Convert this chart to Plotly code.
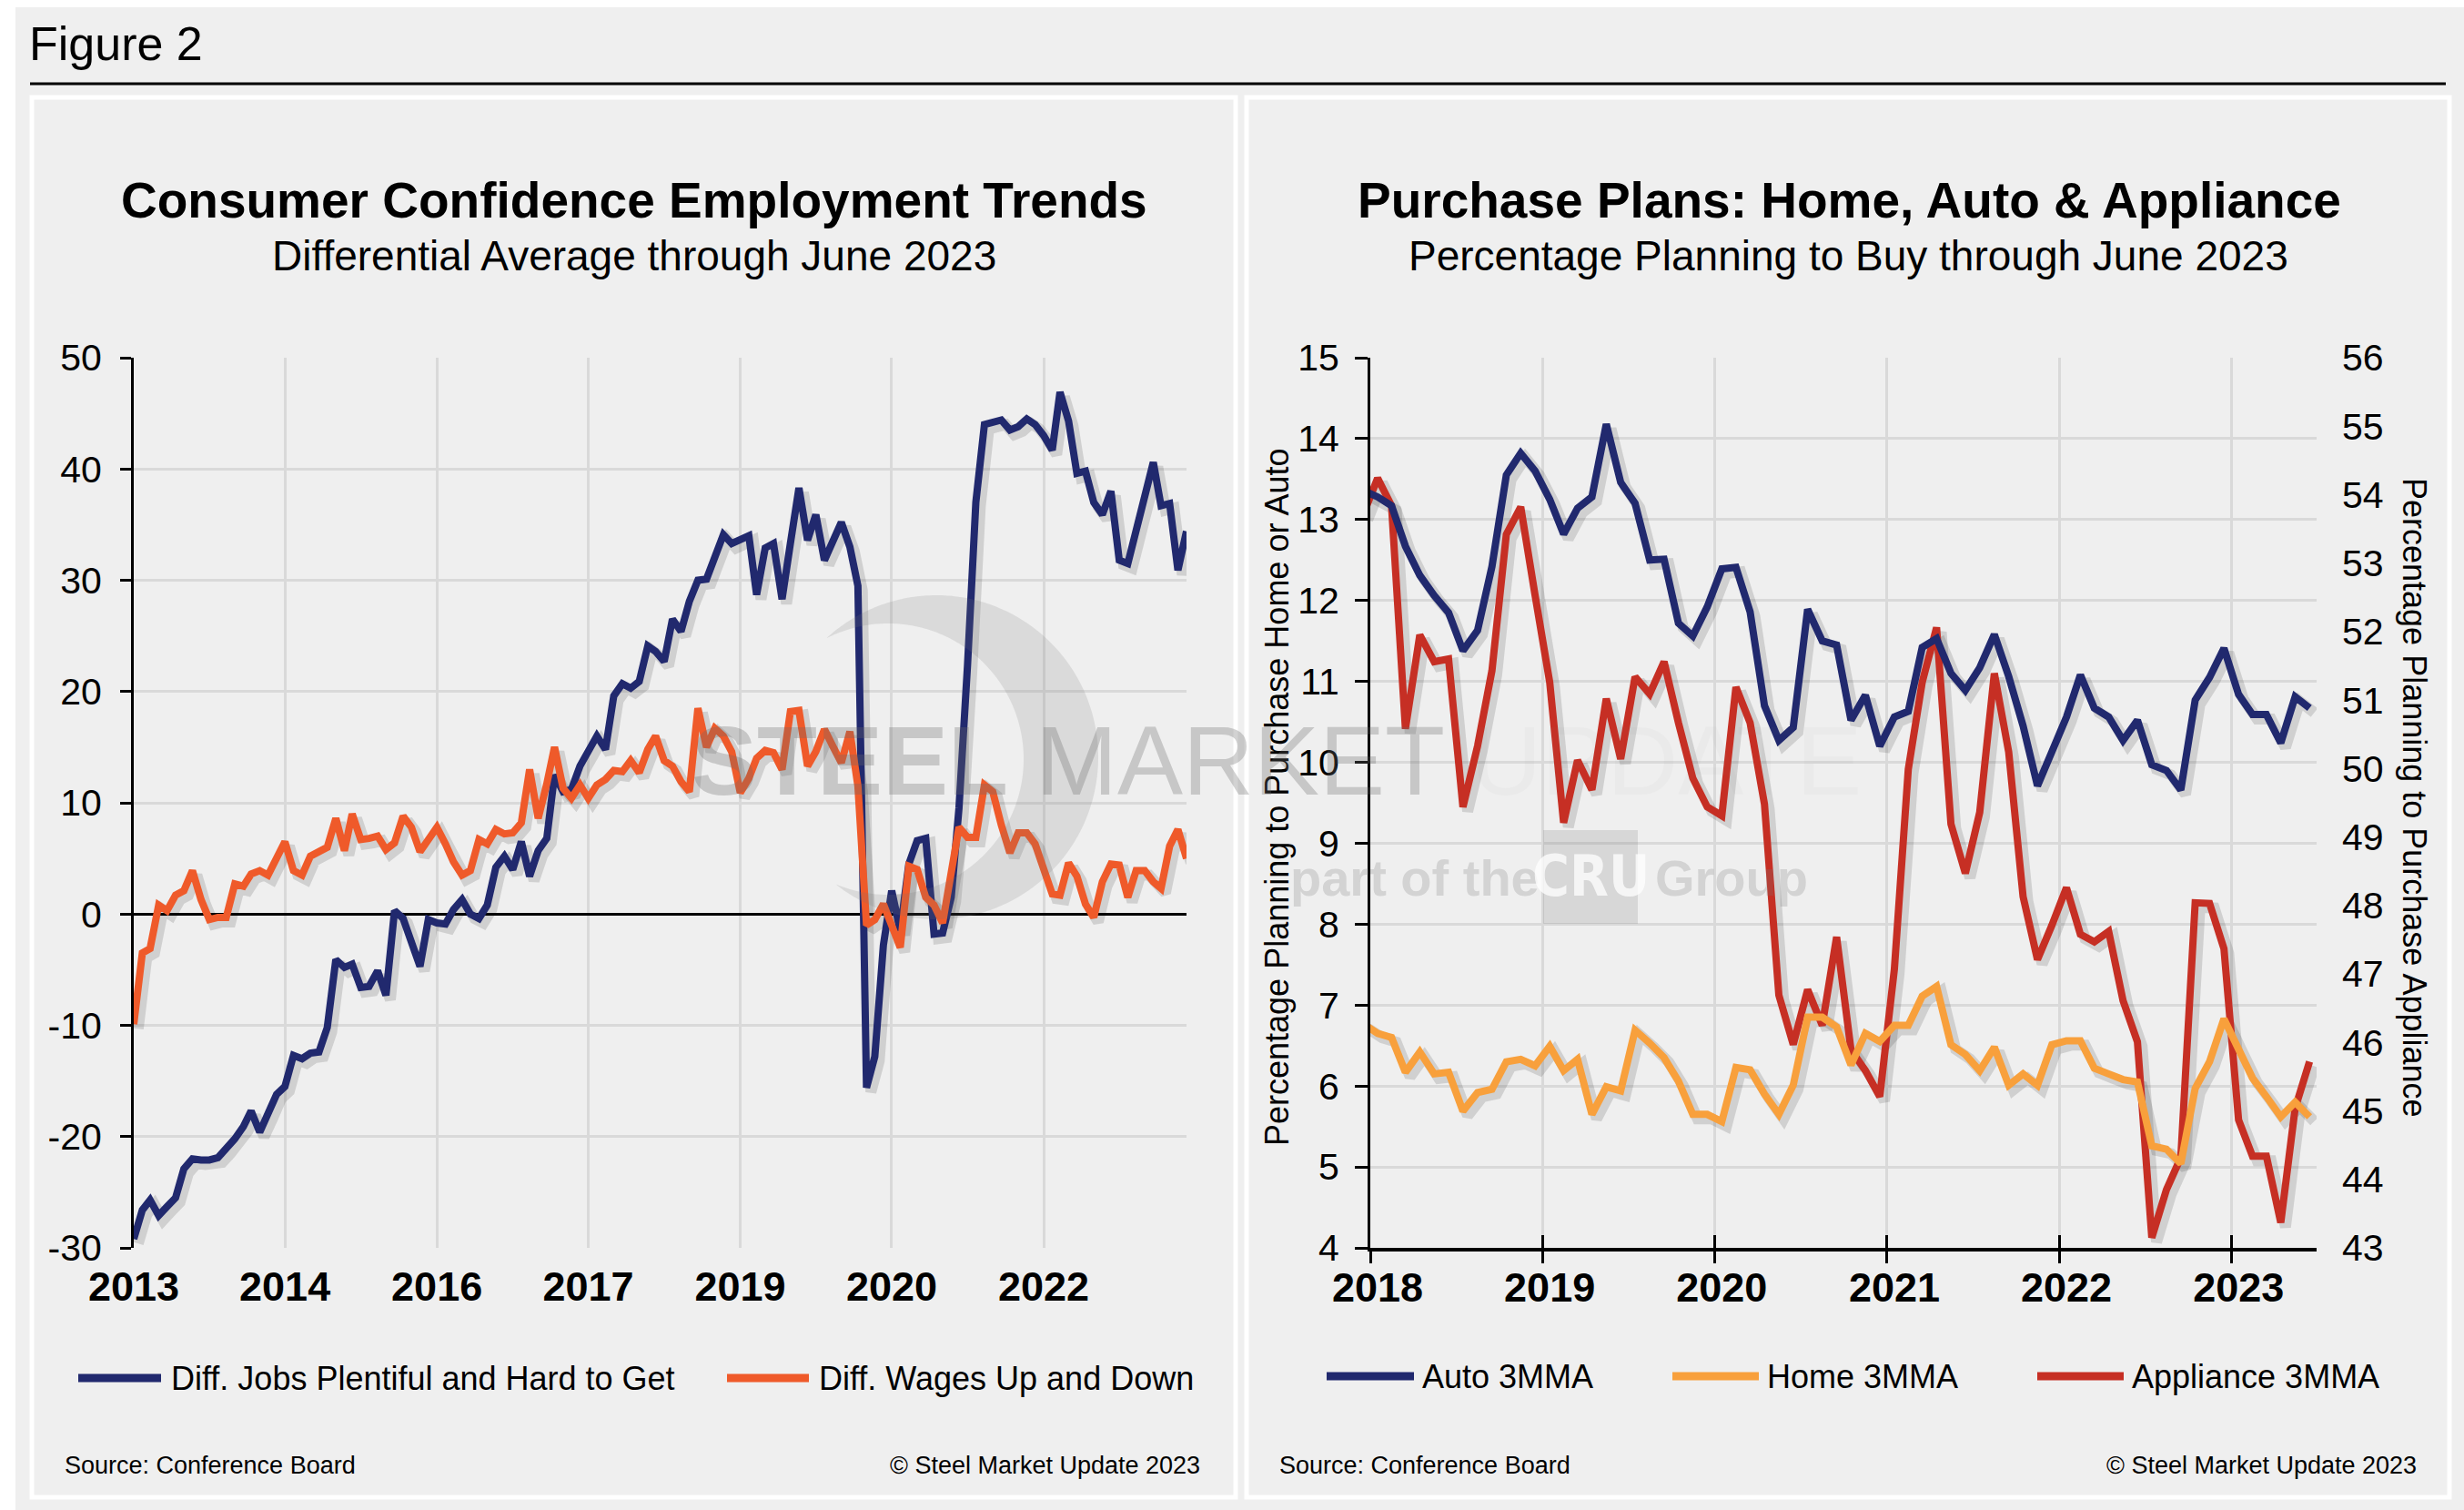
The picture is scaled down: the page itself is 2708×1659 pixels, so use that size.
import numpy as np
import pandas as pd
import plotly.graph_objects as go

W, H = 2708, 1659
FONT = "Liberation Sans, Arial, Helvetica, sans-serif"
NAVY = "#21296e"
ORANGE = "#ef5a2a"
HOME = "#f8a03c"
RED = "#c62f24"
BG = "#efefef"
GRID = "#d9d9d9"
SHADOW = "rgba(0,0,0,0.13)"

# ---------------- Left chart data (monthly, Jan 2013 - Jun 2023) ----------------
left_months = pd.date_range("2013-01-01", "2023-06-01", freq="MS").strftime("%Y-%m-%d").tolist()

jobs_diff = [
    -29.2, -26.6, -25.7, -27.1, -26.3, -25.5, -22.9, -22.0, -22.1, -22.1, -21.9, -21.1,
    -20.2, -19.1, -17.7, -19.6, -18.0, -16.2, -15.5, -12.7, -13.0, -12.5, -12.4, -10.2,
    -4.1, -4.8, -4.5, -6.6, -6.5, -5.1, -7.3, 0.3, -0.4, -2.3, -4.7, -0.5,
    -0.8, -0.9, 0.4, 1.3, 0.0, -0.4, 0.8, 4.2, 5.2, 4.0, 6.5, 3.4,
    5.7, 6.8, 12.5, 11.0, 11.2, 13.3, 14.6, 16.0, 14.8, 19.6, 20.7, 20.3,
    20.9, 24.1, 23.6, 22.7, 26.5, 25.4, 28.1, 30.0, 30.1, 32.3, 34.1, 33.3,
    33.6, 34.0, 28.7, 32.9, 33.3, 28.3, 33.3, 38.3, 33.6, 35.9, 31.8, 33.6,
    35.2, 33.0, 29.5, -15.6, -12.8, -2.8, 2.1, -1.5, 4.5, 6.6, 6.8, -1.8,
    -1.7, 1.5, 9.5, 22.4, 37.0, 44.0, 44.2, 44.4, 43.5, 43.8, 44.5, 44.0,
    43.0, 41.7, 46.9, 44.3, 39.6, 39.8, 37.0, 35.9, 38.0, 31.8, 31.5, 34.4,
    37.0, 40.6, 36.7, 36.9, 30.9, 34.4,
]
wages_diff = [
    -9.9, -3.5, -3.1, 0.8, 0.3, 1.7, 2.1, 3.9, 1.3, -0.5, -0.3, -0.3,
    2.7, 2.5, 3.6, 3.9, 3.5, 5.2, 6.5, 3.9, 3.5, 5.2, 5.7, 6.0,
    8.6, 5.7, 9.0, 6.7, 6.8, 7.0, 5.8, 6.4, 8.8, 7.8, 5.6, 6.8,
    7.8, 6.3, 4.7, 3.5, 3.9, 6.7, 6.3, 7.6, 7.2, 7.3, 8.2, 13.0,
    8.6, 11.7, 15.0, 11.3, 10.4, 11.6, 10.4, 11.6, 12.1, 12.9, 12.8, 13.8,
    12.7, 14.8, 16.0, 13.8, 13.3, 11.9, 11.0, 18.5, 15.0, 16.7, 16.0, 14.6,
    10.9, 12.2, 14.0, 14.7, 14.5, 13.0, 18.2, 18.3, 13.3, 14.6, 16.6, 15.1,
    13.6, 16.4, 11.5, -1.0, -0.5, 0.9, -1.0, -3.0, 4.3, 4.0, 1.5, 0.8,
    -0.8, 3.9, 7.8, 6.9, 6.9, 11.6, 11.0, 8.0, 5.5, 7.3, 7.3, 6.3,
    4.2, 1.8, 1.7, 4.6, 3.4, 0.9, -0.3, 2.9, 4.5, 4.4, 1.5, 3.9,
    3.9, 2.9, 2.3, 6.1, 7.6, 5.0,
]
left_tickvals = ["2013-01-01", "2014-07-01", "2016-01-01", "2017-07-01",
                 "2019-01-01", "2020-07-01", "2022-01-01"]
left_ticktext = ["2013", "2014", "2016", "2017", "2019", "2020", "2022"]
left_yvals = [-30, -20, -10, 0, 10, 20, 30, 40, 50]
left_ytext = ["-30", "-20", "-10", "0", "10", "20", "30", "40", "50"]

# ---------------- Right chart data (monthly, Dec 2017 - Jun 2023) ----------------
right_months = pd.date_range("2017-12-01", "2023-06-01", freq="MS").strftime("%Y-%m-%d").tolist()

auto_3mma = [
    13.36,
    13.28, 13.17, 12.67, 12.31, 12.06, 11.85, 11.38, 11.63, 12.42, 13.55, 13.82, 13.60,
    13.25, 12.82, 13.14, 13.28, 14.18, 13.46, 13.20, 12.50, 12.51, 11.72, 11.56, 11.92,
    12.39, 12.41, 11.86, 10.70, 10.27, 10.43, 11.89, 11.50, 11.45, 10.52, 10.83, 10.20,
    10.56, 10.63, 11.42, 11.53, 11.10, 10.89, 11.17, 11.58, 11.06, 10.45, 9.71, 10.13,
    10.56, 11.08, 10.67, 10.56, 10.27, 10.52, 9.97, 9.90, 9.66, 10.77, 11.05, 11.41,
    10.84, 10.59, 10.59, 10.24, 10.81, 10.67,
]
home_3mma = [
    6.77,
    6.65, 6.60, 6.17, 6.42, 6.15, 6.17, 5.69, 5.92, 5.96, 6.30, 6.33, 6.25,
    6.49, 6.19, 6.33, 5.65, 5.99, 5.94, 6.69, 6.53, 6.35, 6.06, 5.65, 5.65,
    5.56, 6.23, 6.20, 5.90, 5.65, 6.01, 6.85, 6.85, 6.73, 6.26, 6.65, 6.55,
    6.75, 6.75, 7.11, 7.23, 6.51, 6.39, 6.19, 6.48, 6.01, 6.15, 6.01, 6.51,
    6.56, 6.56, 6.22, 6.15, 6.08, 6.05, 5.26, 5.22, 5.04, 5.97, 6.30, 6.83,
    6.48, 6.10, 5.87, 5.62, 5.80, 5.62,
]
appliance_3mma = [
    53.70,
    54.24, 53.84, 50.58, 51.95, 51.56, 51.60, 49.44, 50.33, 51.43, 53.42, 53.82, 52.53,
    51.26, 49.21, 50.12, 49.69, 51.02, 50.14, 51.34, 51.09, 51.56, 50.67, 49.86, 49.44,
    49.31, 51.19, 50.67, 49.48, 46.69, 45.97, 46.77, 46.25, 47.54, 45.89, 45.59, 45.21,
    47.07, 49.99, 51.26, 52.06, 49.19, 48.47, 49.36, 51.39, 50.24, 48.13, 47.21, 47.71,
    48.26, 47.58, 47.47, 47.62, 46.61, 46.01, 43.15, 43.85, 44.32, 48.04, 48.03, 47.37,
    44.87, 44.34, 44.34, 43.37, 45.04, 45.72,
]
right_tickvals = ["2018-01-01", "2019-01-01", "2020-01-01", "2021-01-01", "2022-01-01", "2023-01-01"]
right_ticktext = ["2018", "2019", "2020", "2021", "2022", "2023"]


# ---------------- helpers (pixel -> paper) ----------------
def px(x):
    return x / W


def py(y):
    return 1 - y / H


def shift_dates(rng, days):
    return [(pd.Timestamp(d) + pd.Timedelta(days=days)).strftime("%Y-%m-%d %H:%M:%S") for d in rng]


LX = [px(147), px(1304)]
RX = [px(1506), px(2546)]
YD = [py(1371), py(393)]

left_range = ["2013-01-01", "2023-06-01"]
right_range = ["2018-01-01", "2023-07-01"]
LY = [-30, 50]
RY1 = [4, 15]
RY2 = [43, 56]

fig = go.Figure()
per = dict(xperiod="M1", xperiodalignment="middle")
invisible = dict(mode="lines", line=dict(width=0, color="rgba(0,0,0,0)"), opacity=0,
                 hoverinfo="skip", showlegend=False)

# base subplots (carry the visible axes)
fig.add_trace(go.Scatter(x=left_months, y=jobs_diff, xaxis="x", yaxis="y", **invisible))
fig.add_trace(go.Scatter(x=right_months, y=auto_3mma, xaxis="x2", yaxis="y2", **invisible, **per))

# ---- left chart: shadows then lines ----
for vals in (jobs_diff, wages_diff):
    fig.add_trace(go.Scatter(x=left_months, y=vals, mode="lines", xaxis="x3", yaxis="y3",
                             line=dict(color=SHADOW, width=12), hoverinfo="skip", showlegend=False))
fig.add_trace(go.Scatter(x=left_months, y=jobs_diff, mode="lines", name="Diff. Jobs Plentiful and Hard to Get",
                         xaxis="x4", yaxis="y4", line=dict(color=NAVY, width=8), showlegend=False))
fig.add_trace(go.Scatter(x=left_months, y=wages_diff, mode="lines", name="Diff. Wages Up and Down",
                         xaxis="x4", yaxis="y4", line=dict(color=ORANGE, width=8), showlegend=False))

# ---- right chart: shadows then lines ----
fig.add_trace(go.Scatter(x=right_months, y=auto_3mma, mode="lines", xaxis="x5", yaxis="y6",
                         line=dict(color=SHADOW, width=12), hoverinfo="skip", showlegend=False, **per))
fig.add_trace(go.Scatter(x=right_months, y=home_3mma, mode="lines", xaxis="x5", yaxis="y6",
                         line=dict(color=SHADOW, width=12), hoverinfo="skip", showlegend=False, **per))
fig.add_trace(go.Scatter(x=right_months, y=appliance_3mma, mode="lines", xaxis="x5", yaxis="y7",
                         line=dict(color=SHADOW, width=12), hoverinfo="skip", showlegend=False, **per))
fig.add_trace(go.Scatter(x=right_months, y=auto_3mma, mode="lines", name="Auto 3MMA", xaxis="x6", yaxis="y8",
                         line=dict(color=NAVY, width=8), showlegend=False, **per))
fig.add_trace(go.Scatter(x=right_months, y=home_3mma, mode="lines", name="Home 3MMA", xaxis="x6", yaxis="y8",
                         line=dict(color=HOME, width=8), showlegend=False, **per))
fig.add_trace(go.Scatter(x=right_months, y=appliance_3mma, mode="lines", name="Appliance 3MMA", xaxis="x6",
                         yaxis="y5", line=dict(color=RED, width=8), showlegend=False, **per))

hidden = dict(visible=False, showgrid=False, zeroline=False)
TICKY = dict(size=41, family=FONT, color="black")
TICKX = dict(size=45, weight="bold", family=FONT, color="black")

fig.update_layout(
    width=W, height=H, autosize=False, template="none",
    margin=dict(l=0, r=0, t=0, b=0, pad=0),
    paper_bgcolor="white", plot_bgcolor="rgba(0,0,0,0)",
    font=dict(family=FONT, color="black"),
    showlegend=False, hovermode=False,
    # left chart axes
    xaxis=dict(type="date", domain=LX, range=left_range, anchor="y",
               tickmode="array", tickvals=left_tickvals, ticktext=left_ticktext,
               showgrid=True, gridcolor=GRID, gridwidth=3, zeroline=False, showline=False,
               ticks="", tickfont=TICKX, ticklabelstandoff=12, automargin=False),
    yaxis=dict(domain=YD, range=LY, anchor="x", tickmode="array", tickvals=left_yvals, ticktext=left_ytext,
               showgrid=True, gridcolor=GRID, gridwidth=3,
               zeroline=True, zerolinecolor="black", zerolinewidth=3,
               showline=True, linecolor="black", linewidth=3,
               ticks="outside", ticklen=12, tickwidth=3, tickcolor="black",
               tickfont=TICKY, ticklabelstandoff=12, automargin=False),
    xaxis3=dict(type="date", overlaying="x", range=shift_dates(left_range, -16), anchor="y", **hidden),
    yaxis3=dict(overlaying="y", range=[LY[0] + 0.41, LY[1] + 0.41], anchor="x", **hidden),
    xaxis4=dict(type="date", overlaying="x", range=left_range, anchor="y", **hidden),
    yaxis4=dict(overlaying="y", range=LY, anchor="x", **hidden),
    # right chart axes
    xaxis2=dict(type="date", domain=RX, range=right_range, anchor="y2",
                tickmode="array", tickvals=right_tickvals, ticktext=right_ticktext, ticklabelshift=8,
                showgrid=True, gridcolor=GRID, gridwidth=3, zeroline=False,
                showline=True, linecolor="black", linewidth=4,
                ticks="outside", ticklen=13, tickwidth=3, tickcolor="black",
                tickfont=TICKX, ticklabelstandoff=-12, automargin=False),
    yaxis2=dict(domain=YD, range=RY1, anchor="x2", dtick=1, tick0=0,
                showgrid=True, gridcolor=GRID, gridwidth=3, zeroline=False,
                showline=True, linecolor="black", linewidth=3,
                ticks="outside", ticklen=14, tickwidth=3, tickcolor="black",
                tickfont=TICKY, ticklabelstandoff=9, automargin=False),
    yaxis5=dict(overlaying="y2", side="right", range=RY2, anchor="x2", dtick=1, tick0=0,
                showgrid=False, zeroline=False, showline=False, ticks="",
                tickfont=TICKY, ticklabelstandoff=27, automargin=False),
    xaxis5=dict(type="date", overlaying="x2", range=shift_dates(right_range, -10), anchor="y2", **hidden),
    yaxis6=dict(overlaying="y2", range=[RY1[0] + 0.056, RY1[1] + 0.056], anchor="x2", **hidden),
    yaxis7=dict(overlaying="y2", range=[RY2[0] + 0.066, RY2[1] + 0.066], anchor="x2", **hidden),
    xaxis6=dict(type="date", overlaying="x2", range=right_range, anchor="y2",
                tickmode="array", tickvals=right_tickvals, showticklabels=False,
                showgrid=False, zeroline=False, showline=False,
                ticks="inside", ticklen=14, tickwidth=3, tickcolor="black", automargin=False),
    yaxis8=dict(overlaying="y2", range=RY1, anchor="x2", **hidden),
)

shapes = []
# page background and panels
shapes.append(dict(type="rect", xref="paper", yref="paper", x0=px(17), x1=1, y0=0, y1=py(8),
                   fillcolor=BG, line=dict(width=0), layer="below"))
shapes.append(dict(type="line", xref="paper", yref="paper", x0=px(33), x1=px(2688), y0=py(92), y1=py(92),
                   line=dict(color="black", width=3), layer="below"))
for x0, x1 in ((35, 1358), (1370, 2692)):
    shapes.append(dict(type="rect", xref="paper", yref="paper", x0=px(x0), x1=px(x1), y0=py(1645), y1=py(107),
                       fillcolor=BG, line=dict(color="white", width=5), layer="below"))

# legend swatches
for (x0, x1, yy, col) in ((86, 177, 1514, NAVY), (799, 889, 1514, ORANGE),
                          (1458, 1554, 1512, NAVY), (1838, 1933, 1512, HOME), (2239, 2334, 1512, RED)):
    shapes.append(dict(type="line", xref="paper", yref="paper", x0=px(x0), x1=px(x1), y0=py(yy), y1=py(yy),
                       line=dict(color=col, width=9)))

# watermark crescent
t = np.linspace(-np.pi, np.pi, 400)
ocx, ocy, orr = 1029, 832, 178
icx, icy, irr = 976, 834, 149
ox, oy = ocx + orr * np.cos(t), ocy + orr * np.sin(t)
ix, iy = icx + irr * np.cos(t), icy + irr * np.sin(t)
mo = (ox - icx) ** 2 + (oy - icy) ** 2 > irr ** 2
mi = (ix - ocx) ** 2 + (iy - ocy) ** 2 < orr ** 2
pxs = list(ox[mo]) + list(ix[mi][::-1])
pys = list(oy[mo]) + list(iy[mi][::-1])
path = "M " + " L ".join(f"{px(a):.5f},{py(b):.5f}" for a, b in zip(pxs, pys)) + " Z"
shapes.append(dict(type="path", xref="paper", yref="paper", path=path,
                   fillcolor="rgba(120,120,120,0.17)", line=dict(width=0), layer="above"))
# CRU box
shapes.append(dict(type="rect", xref="paper", yref="paper", x0=px(1696), x1=px(1800), y0=py(1015), y1=py(912),
                   fillcolor="rgba(120,120,120,0.2)", line=dict(width=0), layer="above"))

fig.update_layout(shapes=shapes)


def ann(text, x, y, size, xanchor="left", bold=False, color="black", angle=0, family=FONT):
    return dict(text=text, x=px(x), y=py(y), xref="paper", yref="paper", xanchor=xanchor, yanchor="middle",
                showarrow=False, textangle=angle,
                font=dict(size=size, family=family, color=color, weight="bold" if bold else "normal"))


annotations = [
    ann("Figure 2", 30, 48, 52),
    ann("Consumer Confidence Employment Trends", 697, 220, 55, "center", bold=True),
    ann("Differential Average through June 2023", 697, 281, 46, "center"),
    ann("Purchase Plans: Home, Auto &amp; Appliance", 2032, 220, 55, "center", bold=True),
    ann("Percentage Planning to Buy through June 2023", 2031, 281, 46, "center"),
    ann("Diff. Jobs Plentiful and Hard to Get", 186, 1514, 36),
    ann("Diff. Wages Up and Down", 898, 1514, 36),
    ann("Auto 3MMA", 1561, 1512, 36),
    ann("Home 3MMA", 1940, 1512, 36),
    ann("Appliance 3MMA", 2341, 1512, 36),
    ann("Source: Conference Board", 69, 1610, 27),
    ann("© Steel Market Update 2023", 1321, 1610, 27, "right"),
    ann("Source: Conference Board", 1404, 1610, 27),
    ann("© Steel Market Update 2023", 2658, 1610, 27, "right"),
    ann("Percentage Planning to Purchase Home or Auto", 1403, 876, 36, "center", angle=-90),
    ann("Percentage Planning to Purchase Appliance", 2654, 876, 36, "center", angle=90),
    # watermark
    ann("<b>STEEL</b> MARKET <span style='color:rgba(120,120,120,0.13)'>UPDATE</span>", 758, 835, 108,
        color="rgba(105,105,105,0.30)"),
    ann("part of the", 1416, 964, 56, bold=True, color="rgba(120,120,120,0.24)"),
    ann("Group", 1817, 964, 56, bold=True, color="rgba(120,120,120,0.24)"),
    ann("CRU", 1748, 963, 62, "center", bold=True, color="rgba(255,255,255,0.75)",
        family="Liberation Sans Narrow, DejaVu Sans Condensed, Arial Narrow, sans-serif"),
]
fig.update_layout(annotations=annotations)

fig.write_html("out.html", config={"displayModeBar": False},
               post_script="document.body.style.margin='0px';document.body.style.overflow='hidden';")
